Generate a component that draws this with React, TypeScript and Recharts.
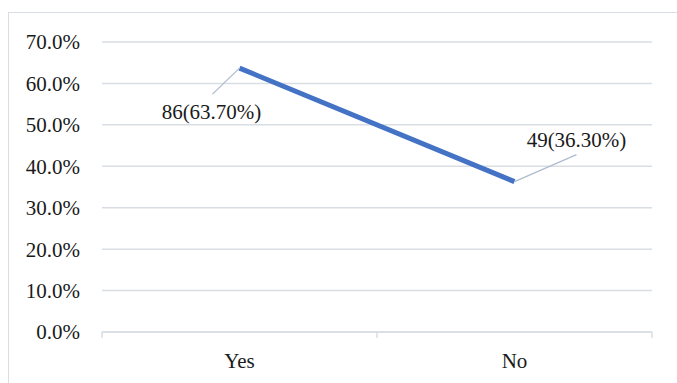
import { LineChart, Line, XAxis, YAxis, CartesianGrid } from 'recharts';

const categories = ['Yes', 'No'];
const counts = [86, 49];
const percents = [63.7, 36.3];
const yTicks = [0, 10, 20, 30, 40, 50, 60, 70];

const data = categories.map((name, i) => ({
  name,
  value: percents[i],
  count: counts[i],
}));

const FONT = '"Liberation Serif", "Times New Roman", serif';
const GRID = '#d9dee5';
const PLOT_W = 550;
const HALF_BAND = PLOT_W / categories.length / 2;

// label placement relative to the point: [text dx, text dy, leader dx, leader dy]
const labelOffsets = [
  [-28, 44, -27, 26],
  [62, -42, 62, -27],
];

const PointLabel = (props: any) => {
  const { x, y, index } = props;
  const [tx, ty, lx, ly] = labelOffsets[index] ?? [0, -20, 0, -10];
  const item = data[index];
  return (
    <g>
      <line x1={x} y1={y} x2={x + lx} y2={y + ly} stroke='#aebbd0' strokeWidth={1.3} />
      <text
        x={x + tx}
        y={y + ty}
        textAnchor='middle'
        dominantBaseline='central'
        fontFamily={FONT}
        fontSize={21}
        fill='#1a1a1a'
      >
        {`${item.count}(${item.value.toFixed(2)}%)`}
      </text>
    </g>
  );
};

const XTick = (props: any) => {
  const { x, y, payload, index } = props;
  const last = index === categories.length - 1;
  return (
    <g>
      <line x1={x - HALF_BAND} y1={y} x2={x - HALF_BAND} y2={y + 6} stroke={GRID} strokeWidth={1.5} />
      {last && (
        <line x1={x + HALF_BAND} y1={y} x2={x + HALF_BAND} y2={y + 6} stroke={GRID} strokeWidth={1.5} />
      )}
      <text x={x} y={y + 36} textAnchor='middle' fontFamily={FONT} fontSize={21} fill='#1a1a1a'>
        {payload.value}
      </text>
    </g>
  );
};

export default function App() {
  return (
    <div style={{ position: 'absolute', left: 0, top: 0, width: 677, height: 383, background: '#fff' }}>
      <div
        style={{
          position: 'absolute',
          left: 8,
          top: 12,
          width: 680,
          height: 380,
          borderLeft: `1.5px solid ${GRID}`,
          borderTop: `1.5px solid ${GRID}`,
        }}
      />
      <div style={{ position: 'absolute', left: 0, top: 0 }}>
        <LineChart
          width={677}
          height={383}
          data={data}
          margin={{ top: 42, right: 25, bottom: 21, left: 0 }}
        >
          <CartesianGrid vertical={false} stroke={GRID} strokeWidth={1.5} />
          <XAxis
            dataKey='name'
            height={30}
            padding={{ left: HALF_BAND, right: HALF_BAND }}
            tickSize={0}
            tickMargin={0}
            tickLine={false}
            axisLine={{ stroke: GRID, strokeWidth: 1.5 }}
            tick={<XTick />}
          />
          <YAxis
            width={102}
            domain={[0, 70]}
            ticks={yTicks}
            tickSize={0}
            tickMargin={22}
            axisLine={false}
            tickLine={false}
            tickFormatter={(v: number) => `${v.toFixed(1)}%`}
            tick={{ fontFamily: FONT, fontSize: 21, fill: '#1a1a1a' }}
          />
          <Line
            type='linear'
            dataKey='value'
            stroke='#4472c4'
            strokeWidth={5}
            dot={false}
            activeDot={false}
            isAnimationActive={false}
            label={<PointLabel />}
          />
        </LineChart>
      </div>
    </div>
  );
}
